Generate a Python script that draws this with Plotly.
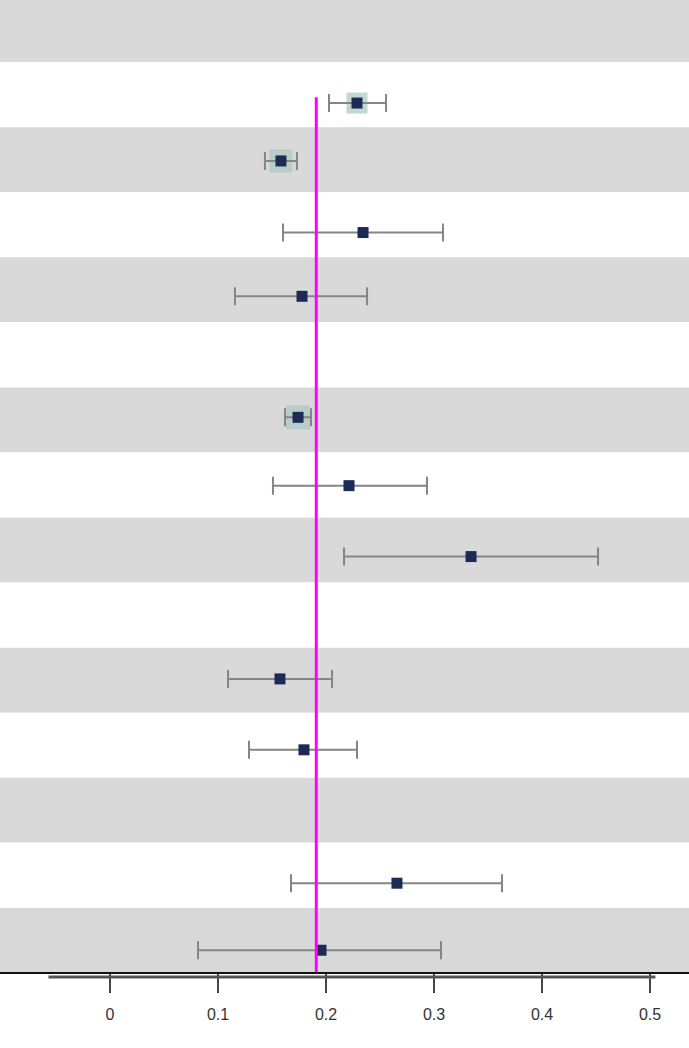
import plotly.graph_objects as go

# forest plot rows (row position measured from top band, 0 = first band)
rows = [1.13, 2.02, 3.12, 4.10, 5.96, 7.01, 8.10, 9.98, 11.07, 13.12, 14.15]
est = [0.2287, 0.1583, 0.2343, 0.1778, 0.1741, 0.2213, 0.3343, 0.1574, 0.1796, 0.2657, 0.1954]
lo = [0.2028, 0.1435, 0.1602, 0.1157, 0.1620, 0.1509, 0.2167, 0.1093, 0.1287, 0.1676, 0.0815]
hi = [0.2556, 0.1731, 0.3083, 0.2380, 0.1861, 0.2935, 0.4519, 0.2056, 0.2287, 0.3630, 0.3065]

# weighted (pooled) rows get a shaded box behind the estimate
pooled_rows = [1.13, 2.02, 5.96]
pooled_est = [0.2287, 0.1583, 0.1741]
pooled_box = [21, 23, 24]

ref_value = 0.191
n_bands = 15
tick_vals = [0, 0.1, 0.2, 0.3, 0.4, 0.5]
tick_text = ["0", "0.1", "0.2", "0.3", "0.4", "0.5"]

fig = go.Figure()

fig.add_trace(go.Scatter(
    x=pooled_est, y=pooled_rows, mode="markers",
    marker=dict(symbol="square", size=pooled_box, color="#a9c7bf", line=dict(width=0)),
    hoverinfo="skip", showlegend=False,
))

fig.add_trace(go.Scatter(
    x=est, y=rows, mode="markers",
    marker=dict(symbol="square", size=11, color="#1c2a56"),
    error_x=dict(
        type="data", symmetric=False,
        array=[h - e for h, e in zip(hi, est)],
        arrayminus=[e - l for e, l in zip(est, lo)],
        color="#858585", thickness=2, width=9,
    ),
    showlegend=False,
))

shapes = []
for k in range(n_bands):
    shapes.append(dict(
        type="rect", xref="paper", yref="y", x0=0, x1=1,
        y0=k - 0.5, y1=k + 0.5, layer="below", line=dict(width=0),
        fillcolor="#d9d9d9" if k % 2 == 0 else "#ffffff",
    ))
# reference line
shapes.append(dict(type="line", xref="x", yref="y", x0=ref_value, x1=ref_value,
                   y0=1.04, y1=14.5, line=dict(color="#ff00ff", width=3)))
# bottom border and axis line
shapes.append(dict(type="line", xref="paper", yref="paper", x0=0, x1=1, y0=0, y1=0,
                   line=dict(color="#111111", width=2)))
shapes.append(dict(type="line", xref="x", yref="paper", x0=-0.057, x1=0.505,
                   y0=-0.004, y1=-0.004, line=dict(color="#555555", width=3)))

fig.update_layout(
    width=689, height=1048,
    margin=dict(l=0, r=0, t=0, b=75),
    plot_bgcolor="white", paper_bgcolor="white",
    shapes=shapes,
    xaxis=dict(
        range=[-0.10185, 0.53611], showgrid=False, zeroline=False, showline=False,
        tickvals=tick_vals, ticktext=tick_text,
        ticks="outside", ticklen=19, tickwidth=2, tickcolor="#444444",
        ticklabelstandoff=8,
        tickfont=dict(family="Liberation Sans, Arial", size=16, color="#333333"),
    ),
    yaxis=dict(range=[14.5, -0.4538], showgrid=False, zeroline=False,
               showticklabels=False, showline=False),
)

fig.write_html("out.html", config={"displayModeBar": False},
               post_script="document.body.style.margin='0';")
